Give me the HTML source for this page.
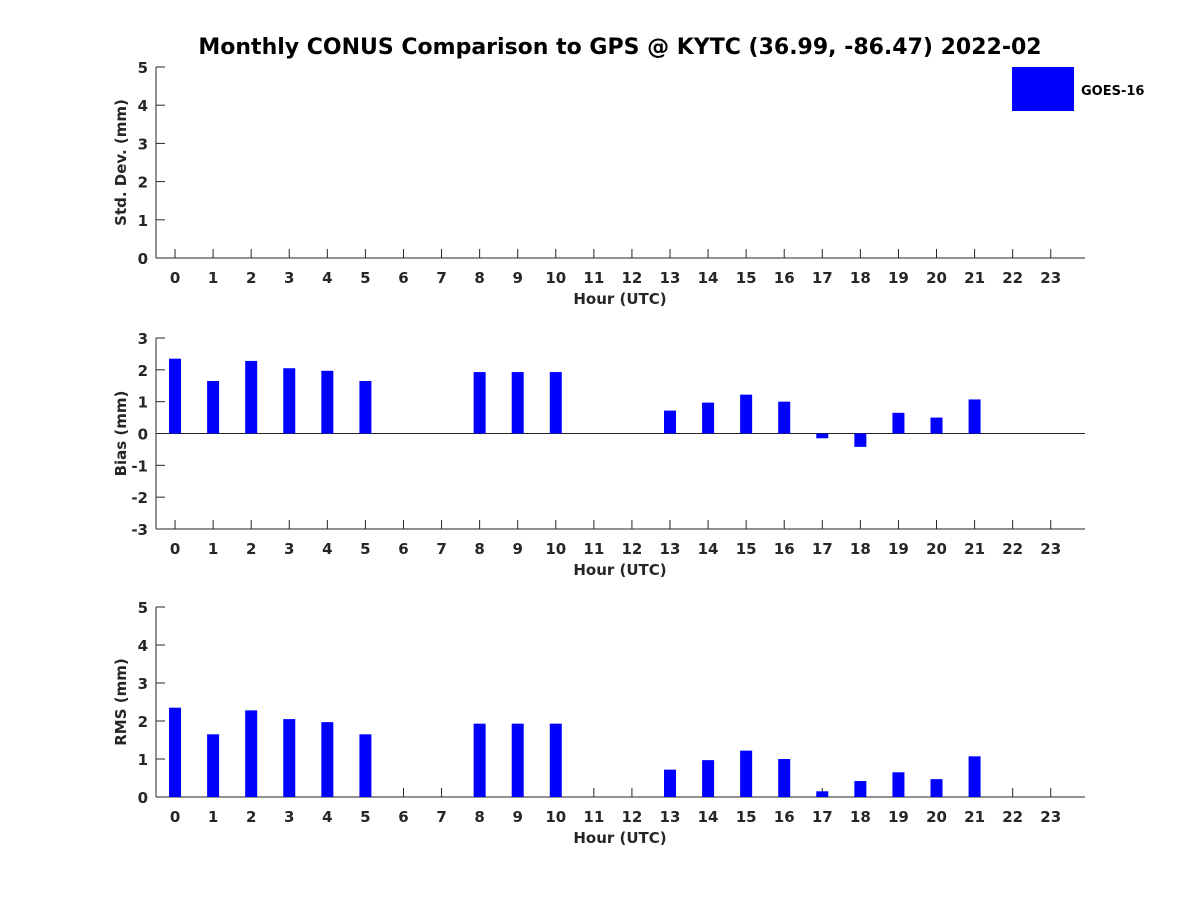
<!DOCTYPE html>
<html><head><meta charset="utf-8"><style>
body{margin:0;background:#fff;}
svg text{font-family:"DejaVu Sans","Liberation Sans",sans-serif;font-weight:bold;fill:#262626;}
</style></head><body>
<svg id="c" width="1200" height="900" xmlns="http://www.w3.org/2000/svg">
<rect width="1200" height="900" fill="#fff"/>
<text x="620" y="54" font-size="22" text-anchor="middle" style="fill:#000">Monthly CONUS Comparison to GPS @ KYTC (36.99, -86.47) 2022-02</text>
<rect x="1012" y="67" width="62" height="44" fill="#0000ff"/>
<text x="1081" y="95" font-size="13" style="fill:#000">GOES-16</text>
</svg>
<script>
const hours=[0,1,2,3,4,5,6,7,8,9,10,11,12,13,14,15,16,17,18,19,20,21,22,23];
const stdVals=[];
const biasHours=[0,1,2,3,4,5,8,9,10,13,14,15,16,17,18,19,20,21];
const biasVals=[2.35,1.65,2.28,2.05,1.97,1.65,1.93,1.93,1.93,0.72,0.97,1.22,1.0,-0.15,-0.42,0.65,0.5,1.07];
const rmsVals=[2.35,1.65,2.28,2.05,1.97,1.65,1.93,1.93,1.93,0.72,0.97,1.22,1.0,0.15,0.42,0.65,0.47,1.07];
const stdTicks=[0,1,2,3,4,5];
const biasTicks=[-3,-2,-1,0,1,2,3];
const rmsTicks=[0,1,2,3,4,5];
const svg=document.getElementById('c');
const NS='http://www.w3.org/2000/svg';
const L=156,R=1085;
const xs=h=>L+(h+0.5)*(R-L)/24.4;
function mk(t,a){const e=document.createElementNS(NS,t);for(const k in a)e.setAttribute(k,a[k]);svg.appendChild(e);return e;}
function panel(name,top,bot,ymin,ymax,ticks,label,bh,vals){
  const ys=v=>bot-(v-ymin)/(ymax-ymin)*(bot-top);
  let e=mk('line',{x1:L,y1:top,x2:L,y2:bot,stroke:'#262626'});
  
  
  e=mk('line',{x1:L,y1:bot,x2:R,y2:bot,stroke:'#262626'});
  
  
  ticks.forEach(t=>{
    const y=ys(t);
    mk('line',{x1:L,y1:y,x2:L+9,y2:y,stroke:'#262626'});
    const tx=mk('text',{x:L-8,y:y+6,'font-size':15,'text-anchor':'end'});tx.textContent=t;
    
    
  });
  hours.forEach(h=>{
    const x=xs(h);
    mk('line',{x1:x,y1:bot,x2:x,y2:bot-9,stroke:'#262626'});
    const tx=mk('text',{x:x,y:bot+25,'font-size':15,'text-anchor':'middle'});tx.textContent=h;
    
    
  });
  if(ymin<0){mk('line',{x1:L,y1:ys(0),x2:R,y2:ys(0),stroke:'#262626'});}
  vals.forEach((v,i)=>{
    const x=xs(bh[i]);const y0=ys(0),y1=ys(v);
    const b=mk('rect',{x:x-6,y:Math.min(y0,y1),width:12,height:Math.abs(y1-y0),fill:'#0000ff'});
    
    
  });
  let xt=mk('text',{x:620,y:bot+46,'font-size':15,'text-anchor':'middle'});xt.textContent='Hour (UTC)';
  
  
  const cy=(top+bot)/2;
  let yt=mk('text',{x:126,y:cy,'font-size':15,'text-anchor':'middle',transform:'rotate(-90 126 '+cy+')'});yt.textContent=label;
  
  
}
panel('std',67,258,0,5,stdTicks,'Std. Dev. (mm)',[],stdVals);
panel('bias',338,529,-3,3,biasTicks,'Bias (mm)',biasHours,biasVals);
panel('rms',607,797,0,5,rmsTicks,'RMS (mm)',biasHours,rmsVals);
</script>
</body></html>
